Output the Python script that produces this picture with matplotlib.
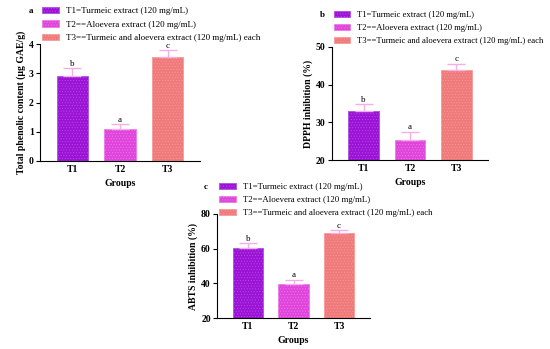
import matplotlib
matplotlib.use("Agg")
import matplotlib.pyplot as plt
from matplotlib.patches import Patch

plt.rcParams['font.family'] = ['Liberation Serif', 'DejaVu Serif']
plt.rcParams['hatch.linewidth'] = 0.4

groups = ["T1", "T2", "T3"]
legend_labels = ["T1=Turmeic extract (120 mg/mL)",
                 "T2==Aloevera extract (120 mg/mL)",
                 "T3==Turmeic and aloevera extract (120 mg/mL) each"]
colors = ["#9C12D6", "#E044DC", "#F07A7A"]
hatch_colors = ["#B050E0", "#EA7CE6", "#F59A9A"]
err_color = "#F2B0E4"

tpc_mean = [2.9, 1.1, 3.55]
tpc_err = [0.28, 0.15, 0.23]
tpc_letters = ["b", "a", "c"]

dpph_mean = [33.0, 25.2, 44.0]
dpph_err = [1.8, 2.3, 1.6]
dpph_letters = ["b", "a", "c"]

abts_mean = [60.5, 39.5, 69.0]
abts_err = [2.5, 2.5, 1.6]
abts_letters = ["b", "a", "c"]

fig = plt.figure(figsize=(5.5, 3.49), dpi=100)

W, H = 550, 349
def axrect(l, r, t, b):
    return [l / W, 1 - b / H, (r - l) / W, (b - t) / H]

panels = [
    dict(rect=axrect(40, 200, 44, 161), mean=tpc_mean, err=tpc_err, letters=tpc_letters,
         ylim=(0, 4), yticks=[0, 1, 2, 3, 4], ylabel="Total phenolic content (µg GAE/g)",
         tag="a", tagpos=(31, 11), legpos=(42, 7), legfs=6.5),
    dict(rect=axrect(332, 488, 47, 160), mean=dpph_mean, err=dpph_err, letters=dpph_letters,
         ylim=(20, 50), yticks=[20, 30, 40, 50], ylabel="DPPH inhibition (%)",
         tag="b", tagpos=(322, 15), legpos=(334, 11), legfs=6.2),
    dict(rect=axrect(217, 370, 214, 318), mean=abts_mean, err=abts_err, letters=abts_letters,
         ylim=(20, 80), yticks=[20, 40, 60, 80], ylabel="ABTS inhibition (%)",
         tag="c", tagpos=(206, 187), legpos=(219, 183), legfs=6.3),
]

for p in panels:
    ax = fig.add_axes(p["rect"])
    x = list(range(len(groups)))
    ax.bar(x, p["mean"], width=0.66, color=colors, edgecolor=hatch_colors,
           hatch="......", linewidth=0.6, zorder=2)
    ax.errorbar(x, p["mean"], yerr=[[0] * 3, p["err"]], fmt="none", ecolor=err_color,
                elinewidth=1.0, capsize=6.5, capthick=1.0, zorder=3)
    span = p["ylim"][1] - p["ylim"][0]
    for xi, m, e, l in zip(x, p["mean"], p["err"], p["letters"]):
        ax.text(xi, m + e + span * 0.004, l, ha="center", va="bottom", fontsize=6.5)
    ax.set_xlim(-0.68, 2.68)
    ax.set_ylim(*p["ylim"])
    ax.set_yticks(p["yticks"])
    ax.set_xticks(x)
    ax.set_xticklabels(groups, fontsize=7, fontweight="bold")
    ax.tick_params(axis="x", length=0, pad=3)
    ax.tick_params(axis="y", length=3, width=0.8, pad=1.5, labelsize=7)
    for t in ax.get_yticklabels():
        t.set_fontweight("bold")
    ax.spines["top"].set_visible(False)
    ax.spines["right"].set_visible(False)
    ax.spines["left"].set_linewidth(0.8)
    ax.spines["bottom"].set_linewidth(0.8)
    ax.set_xlabel("Groups", fontsize=7, fontweight="bold", labelpad=3.5)
    ax.set_ylabel(p["ylabel"], fontsize=7, fontweight="bold", labelpad=2)
    fig.text(p["tagpos"][0] / W, 1 - p["tagpos"][1] / H, p["tag"], fontsize=6.5,
             fontweight="bold", ha="center", va="center")
    handles = [Patch(facecolor=c, edgecolor=hc, hatch="......", linewidth=0.6)
               for c, hc in zip(colors, hatch_colors)]
    ax.legend(handles, legend_labels, loc="upper left",
              bbox_to_anchor=(p["legpos"][0] / W, 1 - p["legpos"][1] / H),
              bbox_transform=fig.transFigure, frameon=False, fontsize=p["legfs"],
              handlelength=1.9, handleheight=0.7, handletextpad=0.8,
              labelspacing=0.55, borderpad=0, borderaxespad=0)

fig.savefig("out.png", dpi=100)
